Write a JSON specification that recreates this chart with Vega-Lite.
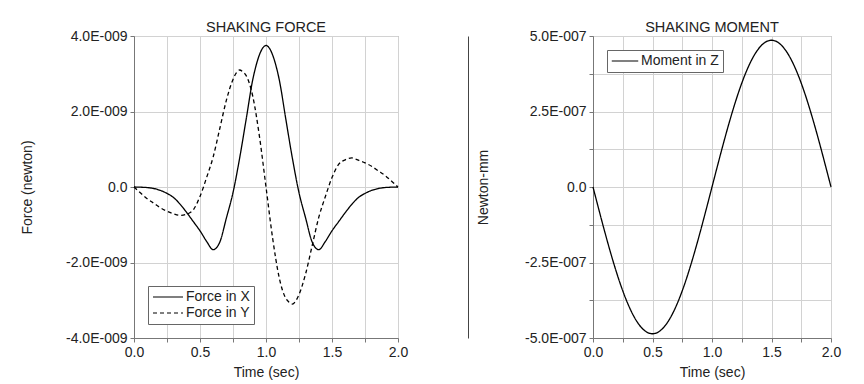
{
  "$schema": "https://vega.github.io/schema/vega-lite/v6.json",
  "background": "white",
  "padding": {"left": 20, "top": 19, "right": 5, "bottom": 5},
  "spacing": 58,
  "resolve": {"scale": {"strokeDash": "independent"}, "legend": {"strokeDash": "independent"}},
  "datasets": {
    "force": [
      {"t": 0.0, "series": "Force in X", "v": 0},
      {"t": 0.05, "series": "Force in X", "v": -0.005e-9},
      {"t": 0.1, "series": "Force in X", "v": -0.015e-9},
      {"t": 0.15, "series": "Force in X", "v": -0.04e-9},
      {"t": 0.2, "series": "Force in X", "v": -0.09e-9},
      {"t": 0.25, "series": "Force in X", "v": -0.17e-9},
      {"t": 0.3, "series": "Force in X", "v": -0.28e-9},
      {"t": 0.35, "series": "Force in X", "v": -0.46e-9},
      {"t": 0.4, "series": "Force in X", "v": -0.68e-9},
      {"t": 0.45, "series": "Force in X", "v": -0.92e-9},
      {"t": 0.5, "series": "Force in X", "v": -1.16e-9},
      {"t": 0.55, "series": "Force in X", "v": -1.44e-9},
      {"t": 0.6, "series": "Force in X", "v": -1.66e-9},
      {"t": 0.65, "series": "Force in X", "v": -1.46e-9},
      {"t": 0.7, "series": "Force in X", "v": -0.82e-9},
      {"t": 0.75, "series": "Force in X", "v": -0.15e-9},
      {"t": 0.8, "series": "Force in X", "v": 0.76e-9},
      {"t": 0.85, "series": "Force in X", "v": 1.8e-9},
      {"t": 0.9, "series": "Force in X", "v": 2.85e-9},
      {"t": 0.925, "series": "Force in X", "v": 3.22e-9},
      {"t": 0.95, "series": "Force in X", "v": 3.5e-9},
      {"t": 0.975, "series": "Force in X", "v": 3.68e-9},
      {"t": 1.0, "series": "Force in X", "v": 3.75e-9},
      {"t": 1.025, "series": "Force in X", "v": 3.68e-9},
      {"t": 1.05, "series": "Force in X", "v": 3.5e-9},
      {"t": 1.075, "series": "Force in X", "v": 3.22e-9},
      {"t": 1.1, "series": "Force in X", "v": 2.85e-9},
      {"t": 1.15, "series": "Force in X", "v": 1.8e-9},
      {"t": 1.2, "series": "Force in X", "v": 0.76e-9},
      {"t": 1.25, "series": "Force in X", "v": -0.15e-9},
      {"t": 1.3, "series": "Force in X", "v": -0.82e-9},
      {"t": 1.35, "series": "Force in X", "v": -1.46e-9},
      {"t": 1.4, "series": "Force in X", "v": -1.66e-9},
      {"t": 1.45, "series": "Force in X", "v": -1.44e-9},
      {"t": 1.5, "series": "Force in X", "v": -1.16e-9},
      {"t": 1.55, "series": "Force in X", "v": -0.92e-9},
      {"t": 1.6, "series": "Force in X", "v": -0.68e-9},
      {"t": 1.65, "series": "Force in X", "v": -0.46e-9},
      {"t": 1.7, "series": "Force in X", "v": -0.28e-9},
      {"t": 1.75, "series": "Force in X", "v": -0.17e-9},
      {"t": 1.8, "series": "Force in X", "v": -0.09e-9},
      {"t": 1.85, "series": "Force in X", "v": -0.04e-9},
      {"t": 1.9, "series": "Force in X", "v": -0.015e-9},
      {"t": 1.95, "series": "Force in X", "v": -0.005e-9},
      {"t": 2.0, "series": "Force in X", "v": 0},
      {"t": 0.0, "series": "Force in Y", "v": 0},
      {"t": 0.05, "series": "Force in Y", "v": -0.16e-9},
      {"t": 0.1, "series": "Force in Y", "v": -0.31e-9},
      {"t": 0.15, "series": "Force in Y", "v": -0.43e-9},
      {"t": 0.2, "series": "Force in Y", "v": -0.55e-9},
      {"t": 0.25, "series": "Force in Y", "v": -0.64e-9},
      {"t": 0.3, "series": "Force in Y", "v": -0.71e-9},
      {"t": 0.35, "series": "Force in Y", "v": -0.75e-9},
      {"t": 0.4, "series": "Force in Y", "v": -0.72e-9},
      {"t": 0.45, "series": "Force in Y", "v": -0.6e-9},
      {"t": 0.5, "series": "Force in Y", "v": -0.25e-9},
      {"t": 0.55, "series": "Force in Y", "v": 0.25e-9},
      {"t": 0.6, "series": "Force in Y", "v": 0.8e-9},
      {"t": 0.65, "series": "Force in Y", "v": 1.55e-9},
      {"t": 0.7, "series": "Force in Y", "v": 2.3e-9},
      {"t": 0.75, "series": "Force in Y", "v": 2.85e-9},
      {"t": 0.775, "series": "Force in Y", "v": 3.02e-9},
      {"t": 0.8, "series": "Force in Y", "v": 3.1e-9},
      {"t": 0.825, "series": "Force in Y", "v": 3.05e-9},
      {"t": 0.85, "series": "Force in Y", "v": 2.95e-9},
      {"t": 0.9, "series": "Force in Y", "v": 2.4e-9},
      {"t": 0.95, "series": "Force in Y", "v": 1.35e-9},
      {"t": 1.0, "series": "Force in Y", "v": 0},
      {"t": 1.05, "series": "Force in Y", "v": -1.35e-9},
      {"t": 1.1, "series": "Force in Y", "v": -2.4e-9},
      {"t": 1.15, "series": "Force in Y", "v": -2.95e-9},
      {"t": 1.175, "series": "Force in Y", "v": -3.05e-9},
      {"t": 1.2, "series": "Force in Y", "v": -3.1e-9},
      {"t": 1.225, "series": "Force in Y", "v": -3.02e-9},
      {"t": 1.25, "series": "Force in Y", "v": -2.85e-9},
      {"t": 1.3, "series": "Force in Y", "v": -2.3e-9},
      {"t": 1.35, "series": "Force in Y", "v": -1.55e-9},
      {"t": 1.4, "series": "Force in Y", "v": -0.8e-9},
      {"t": 1.45, "series": "Force in Y", "v": -0.25e-9},
      {"t": 1.5, "series": "Force in Y", "v": 0.25e-9},
      {"t": 1.55, "series": "Force in Y", "v": 0.6e-9},
      {"t": 1.6, "series": "Force in Y", "v": 0.72e-9},
      {"t": 1.65, "series": "Force in Y", "v": 0.77e-9},
      {"t": 1.7, "series": "Force in Y", "v": 0.71e-9},
      {"t": 1.75, "series": "Force in Y", "v": 0.64e-9},
      {"t": 1.8, "series": "Force in Y", "v": 0.55e-9},
      {"t": 1.85, "series": "Force in Y", "v": 0.43e-9},
      {"t": 1.9, "series": "Force in Y", "v": 0.31e-9},
      {"t": 1.95, "series": "Force in Y", "v": 0.16e-9},
      {"t": 2.0, "series": "Force in Y", "v": 0}
    ],
    "moment": [
      {"t": 0.0, "series": "Moment in Z", "v": 0},
      {"t": 0.05, "series": "Moment in Z", "v": -0.760e-7},
      {"t": 0.1, "series": "Moment in Z", "v": -1.502e-7},
      {"t": 0.15, "series": "Moment in Z", "v": -2.206e-7},
      {"t": 0.2, "series": "Moment in Z", "v": -2.857e-7},
      {"t": 0.25, "series": "Moment in Z", "v": -3.437e-7},
      {"t": 0.3, "series": "Moment in Z", "v": -3.932e-7},
      {"t": 0.35, "series": "Moment in Z", "v": -4.330e-7},
      {"t": 0.4, "series": "Moment in Z", "v": -4.622e-7},
      {"t": 0.45, "series": "Moment in Z", "v": -4.800e-7},
      {"t": 0.5, "series": "Moment in Z", "v": -4.860e-7},
      {"t": 0.55, "series": "Moment in Z", "v": -4.800e-7},
      {"t": 0.6, "series": "Moment in Z", "v": -4.622e-7},
      {"t": 0.65, "series": "Moment in Z", "v": -4.330e-7},
      {"t": 0.7, "series": "Moment in Z", "v": -3.932e-7},
      {"t": 0.75, "series": "Moment in Z", "v": -3.437e-7},
      {"t": 0.8, "series": "Moment in Z", "v": -2.857e-7},
      {"t": 0.85, "series": "Moment in Z", "v": -2.206e-7},
      {"t": 0.9, "series": "Moment in Z", "v": -1.502e-7},
      {"t": 0.95, "series": "Moment in Z", "v": -0.760e-7},
      {"t": 1.0, "series": "Moment in Z", "v": 0},
      {"t": 1.05, "series": "Moment in Z", "v": 0.760e-7},
      {"t": 1.1, "series": "Moment in Z", "v": 1.502e-7},
      {"t": 1.15, "series": "Moment in Z", "v": 2.206e-7},
      {"t": 1.2, "series": "Moment in Z", "v": 2.857e-7},
      {"t": 1.25, "series": "Moment in Z", "v": 3.437e-7},
      {"t": 1.3, "series": "Moment in Z", "v": 3.932e-7},
      {"t": 1.35, "series": "Moment in Z", "v": 4.330e-7},
      {"t": 1.4, "series": "Moment in Z", "v": 4.622e-7},
      {"t": 1.45, "series": "Moment in Z", "v": 4.800e-7},
      {"t": 1.5, "series": "Moment in Z", "v": 4.860e-7},
      {"t": 1.55, "series": "Moment in Z", "v": 4.800e-7},
      {"t": 1.6, "series": "Moment in Z", "v": 4.622e-7},
      {"t": 1.65, "series": "Moment in Z", "v": 4.330e-7},
      {"t": 1.7, "series": "Moment in Z", "v": 3.932e-7},
      {"t": 1.75, "series": "Moment in Z", "v": 3.437e-7},
      {"t": 1.8, "series": "Moment in Z", "v": 2.857e-7},
      {"t": 1.85, "series": "Moment in Z", "v": 2.206e-7},
      {"t": 1.9, "series": "Moment in Z", "v": 1.502e-7},
      {"t": 1.95, "series": "Moment in Z", "v": 0.760e-7},
      {"t": 2.0, "series": "Moment in Z", "v": 0}
    ]
  },
  "hconcat": [
    {
      "width": 264,
      "height": 302,
      "title": {"text": "SHAKING FORCE"},
      "layer": [
        {
          "mark": {"type": "rule", "color": "#777", "strokeWidth": 1},
          "encoding": {"y": {"datum": 0, "type": "quantitative"}}
        },
        {
          "data": {"name": "force"},
          "mark": {"type": "line", "color": "black", "strokeWidth": 1.3, "interpolate": "monotone"},
          "encoding": {
            "x": {
              "field": "t", "type": "quantitative",
              "scale": {"domain": [0, 2], "nice": false},
              "axis": {
                "title": "Time (sec)",
                "grid": true,
                "titlePadding": 6,
                "values": [0, 0.25, 0.5, 0.75, 1, 1.25, 1.5, 1.75, 2],
                "labelExpr": "round(datum.value*4) % 2 == 0 ? format(datum.value, '.1f') : ''"
              }
            },
            "y": {
              "field": "v", "type": "quantitative",
              "scale": {"domain": [-4e-9, 4e-9], "nice": false},
              "axis": {
                "title": "Force (newton)",
                "grid": true,
                "titlePadding": 31,
                "values": [-4e-9, -3e-9, -2e-9, -1e-9, 0, 1e-9, 2e-9, 3e-9, 4e-9],
                "labelExpr": "round(datum.value*1e9) % 2 == 0 ? (round(datum.value*1e9) == 0 ? '0.0' : (datum.value < 0 ? '-' : '') + format(abs(datum.value)*1e9, '.1f') + 'E-009') : ''"
              }
            },
            "strokeDash": {
              "field": "series", "type": "nominal",
              "scale": {"domain": ["Force in X", "Force in Y"], "range": [[1, 0], [4, 3]]},
              "legend": {"orient": "bottom-left", "offset": 14}
            }
          }
        }
      ]
    },
    {
      "width": 238,
      "height": 302,
      "title": {"text": "SHAKING MOMENT"},
      "resolve": {"axis": {"y": "independent"}},
      "layer": [
        {
          "data": {"name": "moment"},
          "mark": {"type": "line", "color": "black", "strokeWidth": 1.3, "interpolate": "monotone"},
          "encoding": {
            "x": {
              "field": "t", "type": "quantitative",
              "scale": {"domain": [0, 2], "nice": false},
              "axis": {
                "title": "Time (sec)",
                "grid": true,
                "titlePadding": 6,
                "values": [0, 0.25, 0.5, 0.75, 1, 1.25, 1.5, 1.75, 2],
                "labelExpr": "round(datum.value*4) % 2 == 0 ? format(datum.value, '.1f') : ''"
              }
            },
            "y": {
              "field": "v", "type": "quantitative",
              "scale": {"domain": [-5e-7, 5e-7], "nice": false},
              "axis": {
                "orient": "left",
                "title": "Newton-mm",
                "grid": true,
                "titlePadding": 34,
                "values": [-5e-7, -3.75e-7, -2.5e-7, -1.25e-7, 0, 1.25e-7, 2.5e-7, 3.75e-7, 5e-7],
                "labelExpr": "round(datum.value*8e6) % 2 == 0 ? (round(datum.value*8e6) == 0 ? '0.0' : (datum.value < 0 ? '-' : '') + format(abs(datum.value)*1e7, '.1f') + 'E-007') : ''"
              }
            },
            "strokeDash": {
              "field": "series", "type": "nominal",
              "scale": {"domain": ["Moment in Z"], "range": [[1, 0]]},
              "legend": {"orient": "top-left", "offset": 14, "symbolSize": 700}
            }
          }
        },
        {
          "mark": {"type": "rule", "color": "#777", "strokeWidth": 1},
          "encoding": {
            "y": {
              "datum": 0, "type": "quantitative",
              "axis": {"orient": "left", "offset": 125, "title": null, "labels": false, "ticks": false, "grid": false, "domainColor": "#444"}
            }
          }
        }
      ]
    }
  ],
  "config": {
    "font": "Liberation Sans",
    "view": {"stroke": "#999"},
    "title": {"fontSize": 14.5, "fontWeight": "normal", "color": "#222", "offset": -6},
    "axis": {
      "labelFontSize": 14,
      "titleFontSize": 14,
      "titleFontWeight": "normal",
      "labelColor": "#222",
      "titleColor": "#222",
      "gridColor": "#d2d2d2",
      "domainColor": "#777",
      "tickColor": "#777",
      "tickSize": 4,
      "labelPadding": 3,
      "labelOverlap": false,
      "labelFlush": false
    },
    "legend": {
      "title": null,
      "fillColor": "white",
      "strokeColor": "#666",
      "padding": 4,
      "labelFontSize": 14,
      "labelColor": "#222",
      "symbolType": "stroke",
      "symbolSize": 900,
      "symbolStrokeWidth": 1.2,
      "symbolStrokeColor": "black",
      "labelOffset": 2,
      "rowPadding": 2,
      "clipHeight": 14
    }
  }
}
